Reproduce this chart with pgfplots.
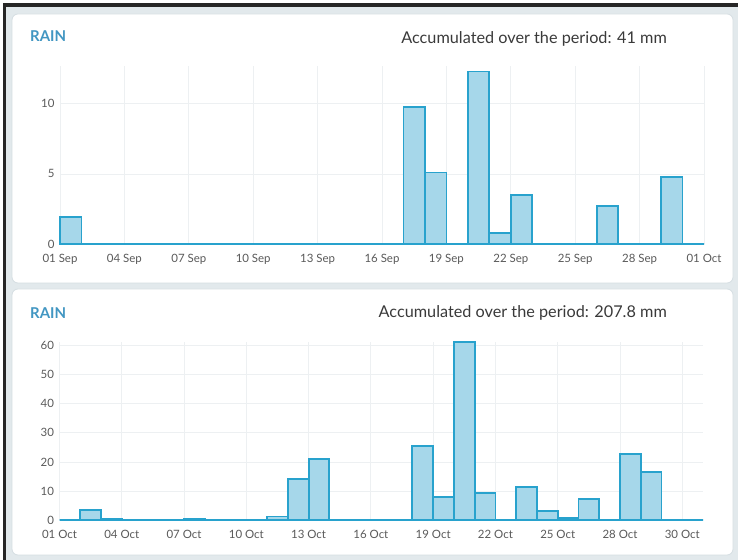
\documentclass[border=0pt]{standalone}
\usepackage{pgfplots}
\pgfplotsset{compat=1.18}
\usepackage{fontspec}
\setmainfont{Lato}
\definecolor{bgray}{HTML}{E2E9EC}
\definecolor{pborder}{HTML}{D5DEE2}
\definecolor{barfill}{HTML}{A6D7EA}
\definecolor{barline}{HTML}{28A2CD}
\definecolor{raincol}{HTML}{4196C2}
\definecolor{titlecol}{HTML}{3A3A3A}
\definecolor{tickcol}{HTML}{5A5A5A}
\definecolor{gridcol}{HTML}{EDF0F2}
\pgfplotsset{
  rainaxis/.style={
    scale only axis, anchor=south west, clip=false,
    xmin=0, ymin=0,
    axis line style={draw=none}, tick style={draw=none},
    major tick length=0pt,
    grid=major, major grid style={gridcol, line width=0.8bp},
    ticklabel style={font=\fontsize{11.5}{13}\selectfont, text=tickcol},
    /pgf/number format/assume math mode=true,
    xticklabel style={yshift=-7bp},
    yticklabel style={xshift=-2bp},
  },
  rainbars/.style={ybar interval, fill=barfill, draw=barline, line width=1.8bp, line join=miter},
}
\begin{document}
\begin{tikzpicture}[x=1bp,y=1bp]
\path[use as bounding box] (0,0) rectangle (738,560);
\fill[white] (0,0) rectangle (738,560);
\fill[bgray] (6,0) rectangle (738,553);
\fill[black!85] (3,553) rectangle (738,556.5);
\fill[black!85] (3,0) rectangle (6,556.5);
\filldraw[fill=white, draw=pborder, line width=0.8bp, rounded corners=6bp] (12,277) rectangle (733,546);
\filldraw[fill=white, draw=pborder, line width=0.8bp, rounded corners=6bp] (12,5) rectangle (733,271);
\node[anchor=west, inner sep=0pt, font=\fontsize{15}{16}\selectfont\bfseries, text=raincol] at (30,524) {RAIN};
\node[anchor=west, inner sep=0pt, font=\fontsize{15}{16}\selectfont\bfseries, text=raincol] at (30,247) {RAIN};
\node[anchor=east, inner sep=0pt, font=\fontsize{16.3}{18}\selectfont, text=titlecol] at (667,521) {Accumulated over the period: 41 mm};
\node[anchor=east, inner sep=0pt, font=\fontsize{16.3}{18}\selectfont, text=titlecol] at (667,247) {Accumulated over the period: 207.8 mm};

\begin{axis}[rainaxis, at={(60bp,316bp)}, width=644bp, height=178bp,
  xmax=30, ymax=12.7,
  xtick={0,3,...,30}, xticklabels={01 Sep,04 Sep,07 Sep,10 Sep,13 Sep,16 Sep,19 Sep,22 Sep,25 Sep,28 Sep,01 Oct},
  ytick={0,5,10}]
\addplot[rainbars] coordinates {
(0,1.9) (1,0) (2,0) (3,0) (4,0) (5,0) (6,0) (7,0) (8,0) (9,0)
(10,0) (11,0) (12,0) (13,0) (14,0) (15,0) (16,9.8) (17,5.1) (18,0) (19,12.3)
(20,0.8) (21,3.5) (22,0) (23,0) (24,0) (25,2.7) (26,0) (27,0) (28,4.8) (29,0) (30,0)};
\end{axis}

\begin{axis}[rainaxis, at={(59.5bp,40bp)}, width=643.5bp, height=178.3bp,
  xmax=31, ymax=61.4,
  xtick={0,3,6,9,12,15,18,21,24,27,30}, xticklabels={01 Oct,04 Oct,07 Oct,10 Oct,13 Oct,16 Oct,19 Oct,22 Oct,25 Oct,28 Oct,30 Oct},
  ytick={0,10,...,60}]
\addplot[rainbars] coordinates {
(0,0) (1,3.4) (2,0.5) (3,0) (4,0) (5,0) (6,0.3) (7,0) (8,0) (9,0)
(10,1.2) (11,14.0) (12,21.0) (13,0) (14,0) (15,0) (16,0) (17,25.6) (18,8.0) (19,61.4)
(20,9.4) (21,0) (22,11.5) (23,3.2) (24,0.6) (25,7.1) (26,0) (27,22.6) (28,16.4) (29,0) (30,0) (31,0)};
\end{axis}
\end{tikzpicture}
\end{document}
